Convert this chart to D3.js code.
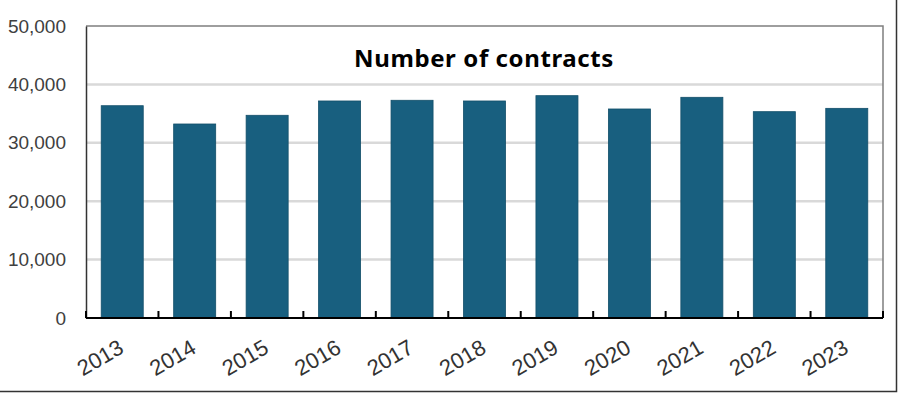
<!DOCTYPE html>
<html>
<head>
<meta charset="utf-8">
<script src="https://cdn.jsdelivr.net/npm/d3@7"></script>
<style>
  body { margin: 0; background: #fff; }
  #chart-container { width: 900px; height: 393px; }
</style>
</head>
<body>
<div id="chart-container"></div>
<script>
const years = ["2013", "2014", "2015", "2016", "2017", "2018", "2019", "2020", "2021", "2022", "2023"];
const contracts = [36350, 33220, 34710, 37160, 37280, 37160, 38070, 35790, 37790, 35330, 35900];
const yTicks = [0, 10000, 20000, 30000, 40000, 50000];
const chartTitle = "Number of contracts";

const container = document.getElementById("chart-container");

function contractsChart() {
    const width = 900;
    const height = 393;
    const marginTop = 26;
    const marginRight = 17;
    const marginBottom = 75;
    const marginLeft = 86;

    const x = d3.scaleBand()
        .domain(years)
        .range([marginLeft, width - marginRight])
        .paddingInner(0.42)
        .paddingOuter(0.21);

    const y = d3.scaleLinear()
        .domain([0, 50000])
        .range([height - marginBottom, marginTop]);

    const svg = d3.create("svg")
        .attr("width", width)
        .attr("height", height);

    // outer frame (right + bottom edges visible)
    svg.append("path")
        .attr("d", `M0,391.5H896.5V0`)
        .attr("fill", "none")
        .attr("stroke", "#333")
        .attr("stroke-width", 1.5);

    // gridlines
    svg.append("g")
        .selectAll("line")
        .data(yTicks.filter(d => d > 0 && d < 50000))
        .join("line")
        .attr("x1", marginLeft)
        .attr("x2", width - marginRight)
        .attr("y1", d => y(d))
        .attr("y2", d => y(d))
        .attr("stroke", "#d9d9d9")
        .attr("stroke-width", 2.5);

    // plot frame: top + right gray
    svg.append("path")
        .attr("d", `M${marginLeft},${y(50000)}H${width - marginRight}V${y(0)}`)
        .attr("fill", "none")
        .attr("stroke", "#7f7f7f")
        .attr("stroke-width", 1.5);

    // bars
    svg.append("g")
        .selectAll("rect")
        .data(years.map((d, i) => ({year: d, value: contracts[i]})))
        .join("rect")
        .attr("x", d => x(d.year))
        .attr("y", d => y(d.value))
        .attr("width", x.bandwidth())
        .attr("height", d => y(0) - y(d.value))
        .attr("fill", "#185f7f")
        .attr("stroke", "#134f6a")
        .attr("stroke-width", 0.8);

    // y axis
    svg.append("g")
        .attr("transform", `translate(${marginLeft},0)`)
        .call(d3.axisLeft(y).tickValues(yTicks).tickFormat(d3.format(",")).tickSize(0).tickPadding(20))
        .call(g => g.select(".domain").attr("stroke", "#333").attr("stroke-width", 1.5))
        .call(g => g.selectAll("text")
            .attr("font-family", "Liberation Sans, Arial, sans-serif")
            .attr("font-size", 19)
            .attr("fill", "#404040"));

    // x axis with boundary ticks pointing up
    const half = x.step() * x.paddingInner() / 2;
    const edges = years.map(d => x(d) - half).concat([x(years[years.length - 1]) + x.bandwidth() + half]);
    const xAxis = svg.append("g")
        .attr("transform", `translate(0,${y(0)})`);
    xAxis.append("line")
        .attr("x1", marginLeft)
        .attr("x2", width - marginRight)
        .attr("stroke", "#000")
        .attr("stroke-width", 2.2);
    xAxis.selectAll(".tick-mark")
        .data(edges)
        .join("line")
        .attr("class", "tick-mark")
        .attr("x1", d => d)
        .attr("x2", d => d)
        .attr("y1", 0)
        .attr("y2", -7)
        .attr("stroke", "#000")
        .attr("stroke-width", 2);
    xAxis.selectAll(".year")
        .data(years)
        .join("text")
        .attr("class", "year")
        .attr("transform", d => `translate(${x(d) + x.bandwidth() / 2 + 3},${34}) rotate(-30)`)
        .attr("text-anchor", "end")
        .attr("font-family", "Liberation Sans, Arial, sans-serif")
        .attr("font-size", 22)
        .attr("fill", "#333")
        .text(d => d);

    // title
    svg.append("text")
        .attr("x", 484)
        .attr("y", 67)
        .attr("text-anchor", "middle")
        .attr("font-family", "Noto Sans, sans-serif")
        .attr("font-weight", "bold")
        .attr("font-size", 24)
        .attr("letter-spacing", 0.6)
        .attr("fill", "#000")
        .text(chartTitle);

    return svg.node();
}

container.appendChild(contractsChart());
</script>
</body>
</html>
